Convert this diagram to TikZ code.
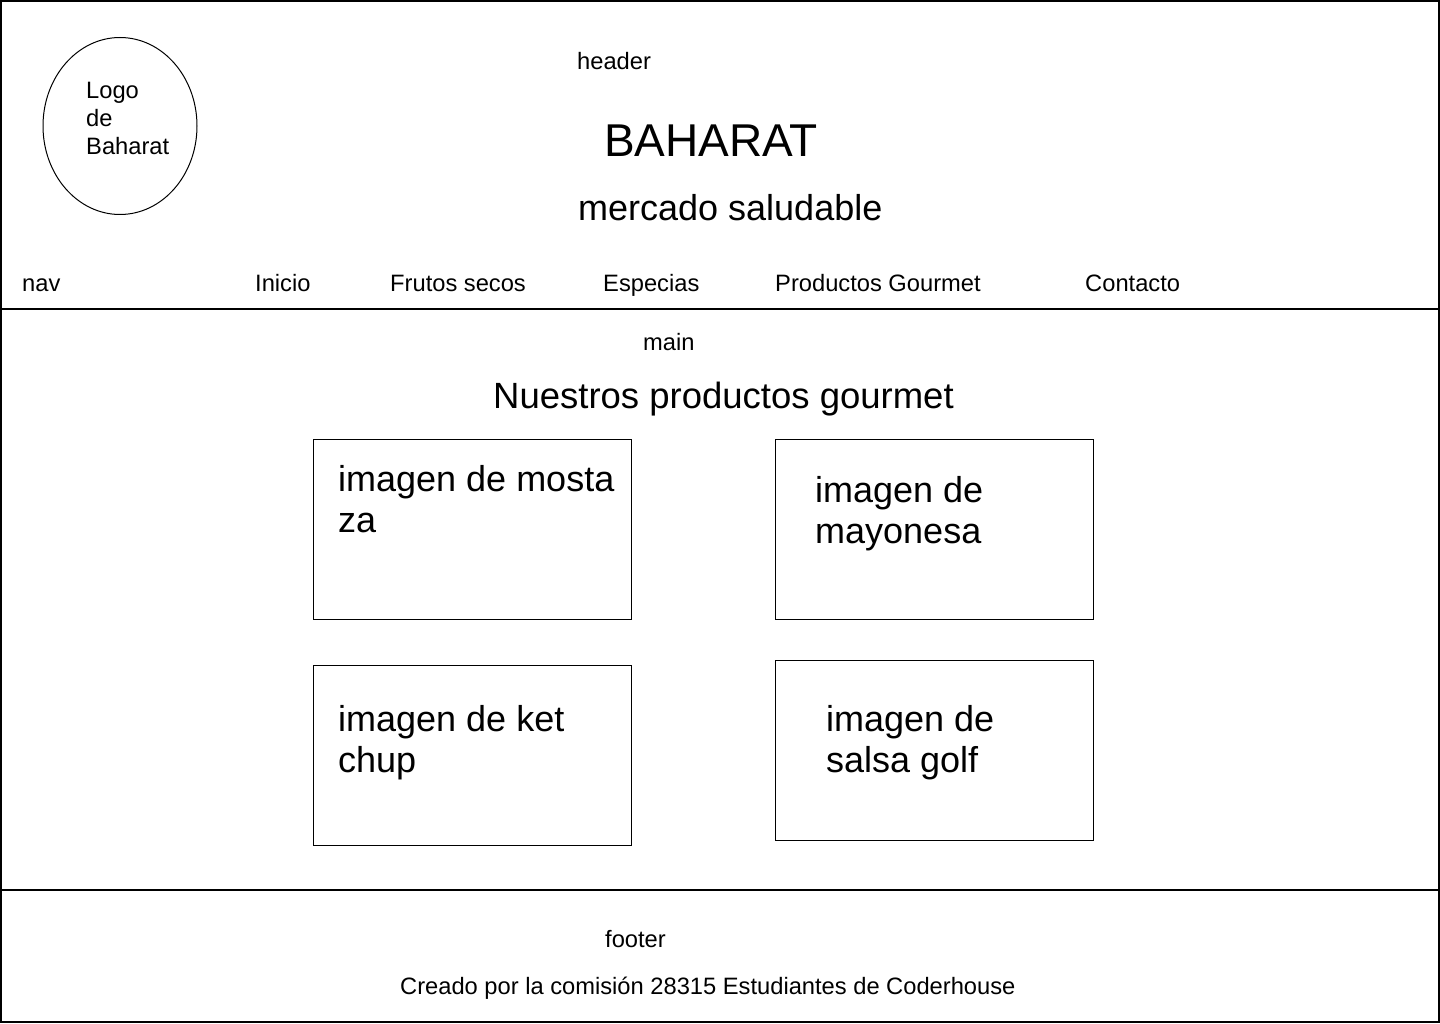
\documentclass[tikz,border=0pt]{standalone}
\usepackage{fontspec}
\setmainfont{Liberation Sans}
\usetikzlibrary{shapes.geometric}
\tikzset{
  lbl/.style={anchor=base west,inner sep=0pt,font=\fontsize{23.7}{28}\selectfont},
  big/.style={anchor=base west,inner sep=0pt,font=\fontsize{36}{41}\selectfont},
  card/.style={draw,line width=1pt,minimum width=318pt,minimum height=180pt,inner sep=0pt},
  cardtxt/.style={anchor=north west,inner sep=0pt,align=left,font=\fontsize{36}{41}\selectfont}
}
\begin{document}
\begin{tikzpicture}[x=1pt,y=-1pt]
    \useasboundingbox (0,0) rectangle (1440,1024);
    \draw[line width=1.5pt] (1,1) rectangle (1439,1022);
    % header
    \path (120,126) node(logo)[draw,ellipse,line width=1pt,minimum width=154pt,minimum height=177pt] {};
    \path (86,118) node(logotxt)[anchor=west,inner sep=0pt,align=left,font=\fontsize{23.7}{28}\selectfont] {Logo\\de\\Baharat};
    \path (577,70) node(hdr)[lbl] {header};
    \path (604,157) node(title)[anchor=base west,inner sep=0pt,font=\fontsize{46}{54}\selectfont] {BAHARAT};
    \path (578,221) node(sub)[big] {mercado saludable};
    % nav
    \path (22,291.5) node(nav)[lbl] {nav};
    \path (255,291.5) node(ini)[lbl] {Inicio};
    \path (390,291.5) node(fru)[lbl] {Frutos secos};
    \path (603,291.5) node(esp)[lbl] {Especias};
    \path (775,291.5) node(gour)[lbl] {Productos Gourmet};
    \path (1085,291.5) node(cont)[lbl] {Contacto};
    \draw[line width=2pt] (0,309) -- (1440,309);
    % main
    \path (643,350) node(mn)[lbl] {main};
    \path (493,408) node(prod)[big,font=\fontsize{36.5}{41}\selectfont] {Nuestros productos gourmet};
    \path (472,529) node(mos)[card] {};
    \path (934,529) node(may)[card] {};
    \path (472,755) node(ket)[card] {};
    \path (934,750) node(sal)[card] {};
    \path (338,465) node(mostxt)[cardtxt] {imagen de mosta\\za};
    \path (815,476) node(maytxt)[cardtxt] {imagen de\\mayonesa};
    \path (338,705) node(kettxt)[cardtxt] {imagen de ket\\chup};
    \path (826,705) node(saltxt)[cardtxt] {imagen de\\salsa golf};
    \draw[line width=2pt] (0,890) -- (1440,890);
    % footer
    \path (605,947.5) node(ft)[lbl] {footer};
    \path (400,994) node(cred)[lbl] {Creado por la comisión 28315 Estudiantes de Coderhouse};
\end{tikzpicture}
\end{document}
